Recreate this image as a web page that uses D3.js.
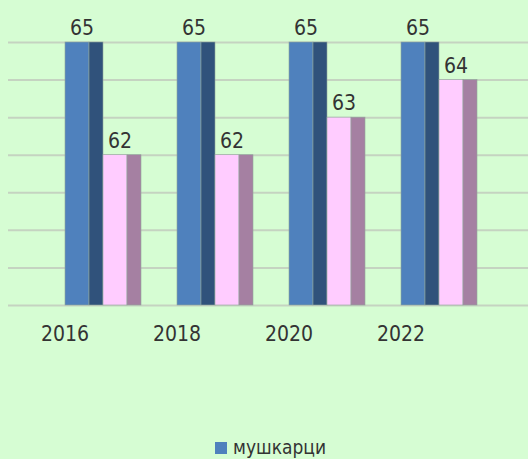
<!DOCTYPE html>
<html>
<head>
<meta charset="utf-8">
<script src="https://cdn.jsdelivr.net/npm/d3@7"></script>
<style>
  html, body { margin: 0; padding: 0; background: #d6fdd3; }
  svg { display: block; font-family: 'DejaVu Sans Condensed', 'DejaVu Sans', sans-serif; font-stretch: condensed; }
</style>
</head>
<body>
<svg id="chart" width="528" height="459"></svg>
<script>
const categories = ["2016", "2018", "2020", "2022"];
const menValues = [65, 65, 65, 65];
const womenValues = [62, 62, 63, 64];
const gridTicks = [58, 59, 60, 61, 62, 63, 64, 65];
const legendLabels = ["мушкарци"];

const W = 528, H = 459;
const svg = d3.select("#chart");
svg.append("rect").attr("width", W).attr("height", H).attr("fill", "#d6fdd3");

const x = d3.scaleBand().domain(categories).range([9, 457]).padding(0);
const y = d3.scaleLinear().domain([58, 65]).range([305, 42]);

// gridlines
const grid = svg.append("g").attr("transform", "translate(8,0)")
  .call(d3.axisLeft(y).tickValues(gridTicks).tickSize(-(W - 8)).tickFormat(""));
grid.select(".domain").remove();
grid.selectAll("line").attr("stroke", "#c5d3c1").attr("stroke-width", 2);

const frontW = 24, sideW = 14;
const series = [
  { values: menValues, front: "#4f81bd", side: "#30527b", offset: 0 },
  { values: womenValues, front: "#ffccff", side: "#a580a2", offset: frontW + sideW }
];

const labelColor = "#333333";
series.forEach(s => {
  const g = svg.append("g");
  categories.forEach((c, i) => {
    const x0 = x(c) + x.bandwidth() / 2 + s.offset;
    const v = s.values[i];
    g.append("rect").attr("x", x0).attr("y", y(v)).attr("width", frontW)
      .attr("height", y(58) - y(v)).attr("fill", s.front)
      .attr("stroke", "#8fa79a").attr("stroke-width", 0.6);
    g.append("rect").attr("x", x0 + frontW).attr("y", y(v)).attr("width", sideW)
      .attr("height", y(58) - y(v)).attr("fill", s.side)
      .attr("stroke", "#8fa79a").attr("stroke-width", 0.6);
    g.append("text").attr("x", x0 + 17).attr("y", y(v) - 7)
      .attr("text-anchor", "middle").attr("font-size", 21)
      .attr("fill", labelColor).text(v);
  });
});

// category axis
const xa = svg.append("g").attr("transform", "translate(0,305)")
  .call(d3.axisBottom(x).tickSize(0).tickPadding(0));
xa.select(".domain").remove();
xa.selectAll("text").attr("font-size", 21).attr("fill", labelColor)
  .attr("dy", null).attr("y", 36)
  .style("font-family", "'DejaVu Sans Condensed', 'DejaVu Sans', sans-serif");

// legend
const lg = svg.append("g");
lg.append("rect").attr("x", 215).attr("y", 442).attr("width", 12).attr("height", 12).attr("fill", "#4f81bd");
lg.append("text").attr("x", 233).attr("y", 454).attr("font-size", 19)
  .attr("fill", labelColor).text(legendLabels[0]);
</script>
</body>
</html>
